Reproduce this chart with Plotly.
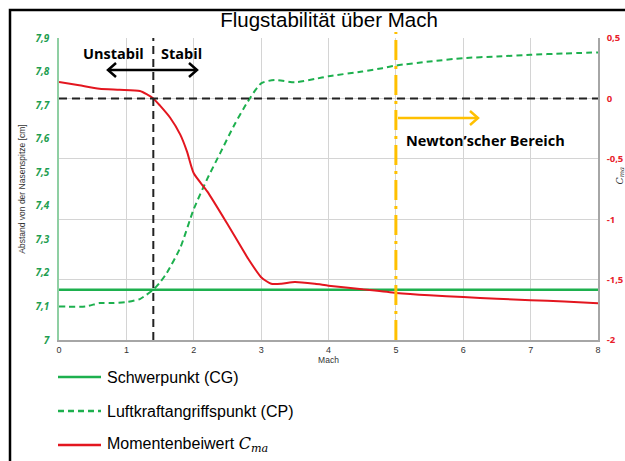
import plotly.graph_objects as go

# ---------------- data ----------------
mach_cp = [0, 0.4, 0.6, 0.8, 1.0, 1.2, 1.3, 1.4, 1.5, 1.6, 1.8, 2.0, 2.2, 2.4, 2.6,
           2.8, 3.0, 3.2, 3.5, 3.8, 4.0, 4.5, 4.8, 5.0, 5.5, 6.0, 6.5, 7.0, 7.5, 8.0]
cp_values = [7.10, 7.10, 7.11, 7.11, 7.113, 7.122, 7.135, 7.15, 7.172, 7.20, 7.275,
             7.39, 7.48, 7.56, 7.64, 7.71, 7.765, 7.775, 7.768, 7.778, 7.786, 7.80,
             7.81, 7.818, 7.83, 7.84, 7.845, 7.85, 7.854, 7.857]

mach_cg = [0, 8]
cg_values = [7.15, 7.15]

mach_cma = [0, 0.3, 0.6, 0.9, 1.2, 1.3, 1.4, 1.5, 1.65, 1.8, 1.9, 2.0, 2.2, 2.5, 2.8,
            3.0, 3.15, 3.3, 3.5, 3.8, 4.0, 4.5, 5.0, 5.5, 6.0, 6.5, 7.0, 7.5, 8.0]
cma_values = [0.135, 0.108, 0.08, 0.072, 0.062, 0.036, 0.0, -0.06, -0.16, -0.30, -0.44,
              -0.62, -0.77, -1.04, -1.32, -1.48, -1.535, -1.535, -1.52, -1.535, -1.55,
              -1.58, -1.61, -1.63, -1.645, -1.658, -1.67, -1.682, -1.695]

series_names = ["Schwerpunkt (CG)", "Luftkraftangriffspunkt (CP)",
                "Momentenbeiwert <span style='font-family:DejaVu Serif'><i>C<sub>ma</sub></i></span>"]

x_ticks = [0, 1, 2, 3, 4, 5, 6, 7, 8]
left_tickvals = [7.0, 7.1, 7.2, 7.3, 7.4, 7.5, 7.6, 7.7, 7.8, 7.9]
left_ticktext = ["7", "7,1", "7,2", "7,3", "7,4", "7,5", "7,6", "7,7", "7,8", "7,9"]
right_tickvals = [-2, -1.5, -1, -0.5, 0, 0.5]
right_ticktext = ["-2", "-1,5", "-1", "-0,5", "0", "0,5"]

stability_mach = 1.4
newton_mach = 5

# ---------------- style ----------------
GREEN = "#1DB04E"
RED = "#E3161F"
YELLOW = "#FFC000"
W, H = 625, 461
L, R, T, B = 59, 27, 38, 121
PW, PH = W - L - R, H - T - B


def px(xp):
    return (xp - L) / PW


def py(yp):
    return (H - B - yp) / PH


fig = go.Figure()
fig.add_trace(go.Scatter(x=mach_cg, y=cg_values, mode="lines", name=series_names[0],
                         line=dict(color=GREEN, width=2.5), yaxis="y", showlegend=False))
fig.add_trace(go.Scatter(x=mach_cp, y=cp_values, mode="lines", name=series_names[1],
                         line=dict(color=GREEN, width=2, dash="6px,4px", shape="spline", smoothing=0.6),
                         yaxis="y", showlegend=False))
fig.add_trace(go.Scatter(x=mach_cma, y=cma_values, mode="lines", name=series_names[2],
                         line=dict(color=RED, width=2, shape="spline", smoothing=0.6),
                         yaxis="y2", showlegend=False))

shapes = []
# zero line of Cma (black dashed)
shapes.append(dict(type="line", xref="paper", yref="y2", x0=0, x1=1, y0=0, y1=0,
                   line=dict(color="#222222", width=2, dash="8px,5px")))
# stability boundary
shapes.append(dict(type="line", xref="x", yref="paper", x0=stability_mach, x1=stability_mach,
                   y0=0, y1=1, line=dict(color="#222222", width=2, dash="8px,5px")))
# Newton region boundary
shapes.append(dict(type="line", xref="x", yref="paper", x0=newton_mach, x1=newton_mach,
                   y0=0, y1=py(32), line=dict(color=YELLOW, width=3, dash="20px,6px,3px,6px")))
# outer frame
shapes.append(dict(type="rect", xref="paper", yref="paper", x0=px(10), x1=px(640),
                   y0=py(480), y1=py(10), line=dict(color="black", width=2.5)))


def arrow(x0p, x1p, yp, color, both):
    """horizontal arrow drawn in pixel positions (converted to paper coords)"""
    out = [dict(type="line", xref="paper", yref="paper", x0=px(x0p), x1=px(x1p),
                y0=py(yp), y1=py(yp), line=dict(color=color, width=2.5))]
    ends = [(x1p, -1)] + ([(x0p, 1)] if both else [])
    for tip, d in ends:
        path = "M {},{} L {},{} L {},{}".format(px(tip + d * 8), py(yp - 7), px(tip), py(yp),
                                                 px(tip + d * 8), py(yp + 7))
        out.append(dict(type="path", xref="paper", yref="paper", path=path,
                        line=dict(color=color, width=2.5)))
    return out


shapes += arrow(108, 197, 70, "black", True)
shapes += arrow(398, 478, 118, YELLOW, False)

# manual legend
leg_y = [377, 411, 445]
leg_dash = ["solid", "6px,4px", "solid"]
leg_col = [GREEN, GREEN, RED]
annotations = []
for i in range(3):
    shapes.append(dict(type="line", xref="paper", yref="paper", x0=px(58), x1=px(101),
                       y0=py(leg_y[i]), y1=py(leg_y[i]),
                       line=dict(color=leg_col[i], width=2.5, dash=leg_dash[i])))
    annotations.append(dict(xref="paper", yref="paper", x=px(105), y=py(leg_y[i]),
                            xanchor="left", yanchor="middle", showarrow=False,
                            text=series_names[i],
                            font=dict(family="Liberation Sans, Arial", size=16, color="black")))

lbl_font = dict(family="Open Sans", size=14.5, color="black", weight="bold")
for txt, xc, yc in [("Unstabil", 113, 53), ("Stabil", 181, 53), ("Newton’scher Bereich", 485, 140)]:
    annotations.append(dict(xref="paper", yref="paper", x=px(xc), y=py(yc), text=txt,
                            xanchor="center", yanchor="middle", showarrow=False, font=lbl_font))
# right axis title
annotations.append(dict(xref="paper", yref="paper", x=px(611), y=py(176), text="<i>C<sub>ma</sub></i>",
                        showarrow=False, textangle=-90, xanchor="left", yanchor="middle",
                        font=dict(family="DejaVu Serif", size=9.5, color="#333333")))

fig.update_layout(
    width=W, height=H,
    margin=dict(l=L, r=R, t=T, b=B, autoexpand=False),
    paper_bgcolor="white", plot_bgcolor="white",
    showlegend=False,
    title=dict(text="Flugstabilität über Mach", xref="container", x=329 / W, xanchor="center",
               yref="container", y=1 - 20 / H, yanchor="middle",
               font=dict(family="Liberation Sans, Arial", size=20.5, color="black")),
    xaxis=dict(range=[0, 8], tickvals=x_ticks, ticktext=[str(v) for v in x_ticks],
               showgrid=True, gridcolor="#D4D4D4", gridwidth=1, automargin=False,
               showline=True, linecolor="#A6A6A6", linewidth=1.5, zeroline=False,
               ticks="", ticklen=0,
               tickfont=dict(family="Liberation Sans, Arial", size=9, color="#333333"),
               title=dict(text="Mach", standoff=2,
                          font=dict(family="Liberation Sans, Arial", size=8.5, color="#333333"))),
    yaxis=dict(range=[7, 7.9], tickvals=left_tickvals, ticktext=left_ticktext,
               showgrid=False, zeroline=False, showline=True, linecolor="#8FCFA3", linewidth=1.5,
               ticks="", ticklabelstandoff=6, automargin=False,
               tickfont=dict(family="Open Sans", size=10, color="#1E9E50", weight="bold", style="italic"),
               title=dict(text="Abstand von der Nasenspitze [cm]", standoff=8,
                          font=dict(family="Liberation Sans, Arial", size=8.5, color="#333333"))),
    yaxis2=dict(range=[-2, 0.5], tickvals=right_tickvals, ticktext=right_ticktext,
                overlaying="y", side="right", showgrid=True, gridcolor="#D4D4D4", gridwidth=1,
                zeroline=False, showline=True, linecolor="#A6A6A6", linewidth=1.5,
                ticks="", ticklabelstandoff=5, automargin=False,
                tickfont=dict(family="Open Sans", size=9.5, color="#E8202A", weight="bold")),
    shapes=shapes,
    annotations=annotations,
)

fig.write_html("out.html")
